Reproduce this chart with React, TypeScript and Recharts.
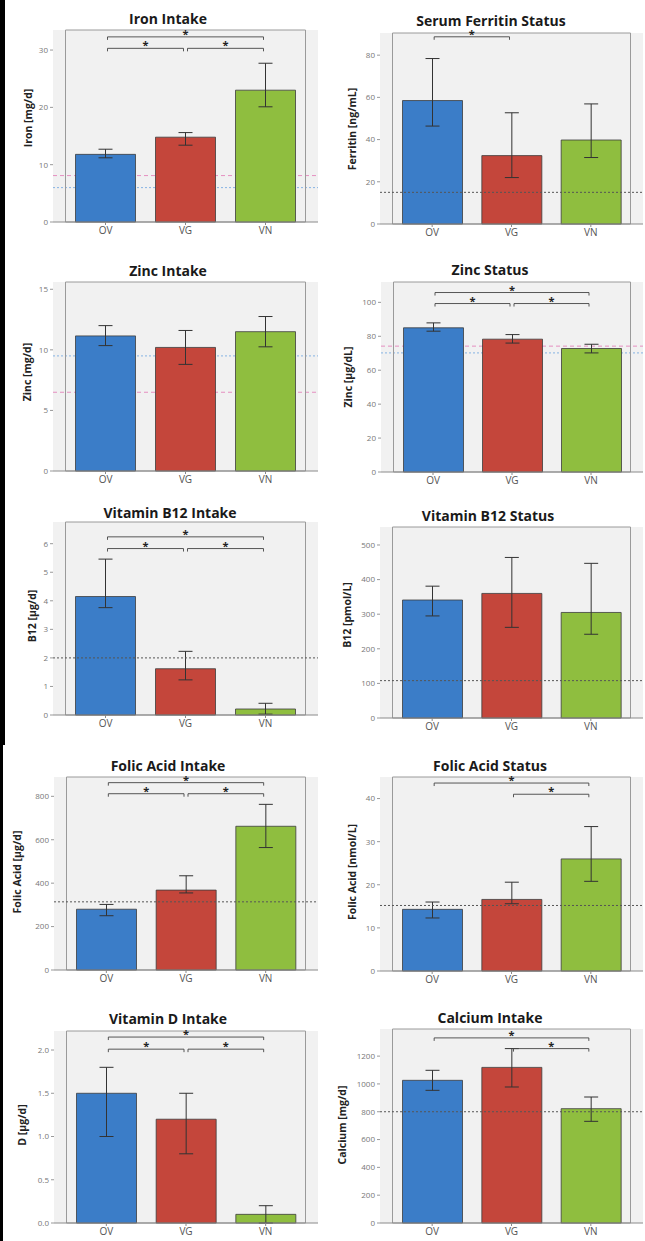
import {
  BarChart,
  Bar,
  XAxis,
  YAxis,
  ErrorBar,
  ReferenceLine,
  ReferenceArea,
  CartesianGrid,
  Cell
} from "recharts"

const groups = ["OV", "VG", "VN"]
const barColors = ["#3b7dc8", "#c4463b", "#8fbe3f"]

// Iron intake [mg/d]
const ironMean = [11.8, 14.8, 23.0]
const ironLow = [11.2, 13.4, 20.1]
const ironHigh = [12.7, 15.6, 27.7]
const ironTicks = [0, 10, 20, 30]
const ironRefs = [{ y: 8.1, kind: "pink" }, { y: 6.0, kind: "blue" }]
const ironBrackets = [["OV", "VN", 32.3], ["OV", "VG", 30.3], ["VG", "VN", 30.3]]

// Serum ferritin [ng/mL]
const ferritinMean = [58.5, 32.4, 39.8]
const ferritinLow = [46.4, 22.0, 31.5]
const ferritinHigh = [78.4, 52.7, 56.9]
const ferritinTicks = [0, 20, 40, 60, 80]
const ferritinRefs = [{ y: 15, kind: "dark" }]
const ferritinBrackets = [["OV", "VG", 88.7]]

// Zinc intake [mg/d]
const zincMean = [11.15, 10.2, 11.5]
const zincLow = [10.35, 8.8, 10.25]
const zincHigh = [12.0, 11.6, 12.75]
const zincTicks = [0, 5, 10, 15]
const zincRefs = [{ y: 9.5, kind: "blue" }, { y: 6.5, kind: "pink" }]
const zincBrackets: any[] = []

// Zinc status [µg/dL]
const zincStatusMean = [85, 78.3, 72.8]
const zincStatusLow = [83, 76, 70.2]
const zincStatusHigh = [87.9, 81, 75.3]
const zincStatusTicks = [0, 20, 40, 60, 80, 100]
const zincStatusRefs = [{ y: 74.2, kind: "pink" }, { y: 70.2, kind: "blue" }]
const zincStatusBrackets = [["OV", "VN", 105.8], ["OV", "VG", 99.3], ["VG", "VN", 99.3]]

// Vitamin B12 intake [µg/d]
const b12Mean = [4.15, 1.62, 0.21]
const b12Low = [3.76, 1.23, 0.03]
const b12High = [5.46, 2.23, 0.41]
const b12Ticks = [0, 1, 2, 3, 4, 5, 6]
const b12Refs = [{ y: 2.0, kind: "dark" }]
const b12Brackets = [["OV", "VN", 6.24], ["OV", "VG", 5.83], ["VG", "VN", 5.83]]

// Vitamin B12 status [pmol/L]
const b12StatusMean = [341, 360, 305]
const b12StatusLow = [295, 262, 242]
const b12StatusHigh = [381, 464, 447]
const b12StatusTicks = [0, 100, 200, 300, 400, 500]
const b12StatusRefs = [{ y: 108, kind: "dark" }]
const b12StatusBrackets: any[] = []

// Folic acid intake [µg/d]
const folicMean = [280, 368, 662]
const folicLow = [250, 355, 564]
const folicHigh = [302, 434, 763]
const folicTicks = [0, 200, 400, 600, 800]
const folicRefs = [{ y: 314, kind: "dark" }]
const folicBrackets = [["OV", "VN", 863], ["OV", "VG", 812], ["VG", "VN", 812]]

// Folic acid status [nmol/L]
const folicStatusMean = [14.3, 16.6, 26]
const folicStatusLow = [12.3, 15.6, 20.8]
const folicStatusHigh = [16, 20.6, 33.5]
const folicStatusTicks = [0, 10, 20, 30, 40]
const folicStatusRefs = [{ y: 15.2, kind: "dark" }]
const folicStatusBrackets = [["OV", "VN", 43.6], ["VG", "VN", 41]]

// Vitamin D intake [µg/d]
const vitDMean = [1.5, 1.2, 0.1]
const vitDLow = [1.0, 0.8, 0.0]
const vitDHigh = [1.8, 1.5, 0.2]
const vitDTicks = [0, 0.5, 1, 1.5, 2]
const vitDRefs: any[] = []
const vitDBrackets = [["OV", "VN", 2.15], ["OV", "VG", 2.01], ["VG", "VN", 2.01]]

// Calcium intake [mg/d]
const calciumMean = [1026, 1119, 822]
const calciumLow = [954, 978, 731]
const calciumHigh = [1098, 1254, 906]
const calciumTicks = [0, 200, 400, 600, 800, 1000, 1200]
const calciumRefs = [{ y: 800, kind: "dark" }]
const calciumBrackets = [["OV", "VN", 1331], ["VG", "VN", 1254]]

const refStyles: Record<string, { stroke: string; dash: string }> = {
  pink: { stroke: "#e58fc0", dash: "4 3" },
  blue: { stroke: "#86b3e3", dash: "2 2" },
  dark: { stroke: "#555", dash: "2 2" }
}

// frame = plot box [left, top, right, bottom] in page pixels
const panels = [
  { title: "Iron Intake", unit: "Iron [mg/d]", mean: ironMean, low: ironLow, high: ironHigh, ticks: ironTicks, max: 33.5, refs: ironRefs, brackets: ironBrackets, frame: [53, 30, 318, 222], titleX: 168, titleY: 18, labelX: 28, labelY: 118, digits: 0 },
  { title: "Serum Ferritin Status", unit: "Ferritin [ng/mL]", mean: ferritinMean, low: ferritinLow, high: ferritinHigh, ticks: ferritinTicks, max: 90.5, refs: ferritinRefs, brackets: ferritinBrackets, frame: [380, 33, 643, 224], titleX: 491, titleY: 20, labelX: 352, labelY: 129, digits: 0 },
  { title: "Zinc Intake", unit: "Zinc [mg/d]", mean: zincMean, low: zincLow, high: zincHigh, ticks: zincTicks, max: 15.6, refs: zincRefs, brackets: zincBrackets, frame: [53, 282, 318, 471], titleX: 168, titleY: 270, labelX: 27, labelY: 372, digits: 0 },
  { title: "Zinc Status", unit: "Zinc [µg/dL]", mean: zincStatusMean, low: zincStatusLow, high: zincStatusHigh, ticks: zincStatusTicks, max: 112, refs: zincStatusRefs, brackets: zincStatusBrackets, frame: [381, 282, 643, 472], titleX: 490, titleY: 269, labelX: 348, labelY: 377, digits: 0 },
  { title: "Vitamin B12 Intake", unit: "B12 [µg/d]", mean: b12Mean, low: b12Low, high: b12High, ticks: b12Ticks, max: 6.76, refs: b12Refs, brackets: b12Brackets, frame: [53, 522, 318, 715], titleX: 170, titleY: 512, labelX: 32, labelY: 616, digits: 0 },
  { title: "Vitamin B12 Status", unit: "B12 [pmol/L]", mean: b12StatusMean, low: b12StatusLow, high: b12StatusHigh, ticks: b12StatusTicks, max: 552, refs: b12StatusRefs, brackets: b12StatusBrackets, frame: [380, 527, 643, 718], titleX: 488, titleY: 515, labelX: 347, labelY: 615, digits: 0 },
  { title: "Folic Acid Intake", unit: "Folic Acid [µg/d]", mean: folicMean, low: folicLow, high: folicHigh, ticks: folicTicks, max: 889, refs: folicRefs, brackets: folicBrackets, frame: [54, 777, 318, 970], titleX: 168, titleY: 765, labelX: 17, labelY: 872, digits: 0 },
  { title: "Folic Acid Status", unit: "Folic Acid [nmol/L]", mean: folicStatusMean, low: folicStatusLow, high: folicStatusHigh, ticks: folicStatusTicks, max: 45, refs: folicStatusRefs, brackets: folicStatusBrackets, frame: [380, 777, 643, 971], titleX: 490, titleY: 765, labelX: 352, labelY: 872, digits: 0 },
  { title: "Vitamin D Intake", unit: "D [µg/d]", mean: vitDMean, low: vitDLow, high: vitDHigh, ticks: vitDTicks, max: 2.22, refs: vitDRefs, brackets: vitDBrackets, frame: [54, 1031, 318, 1223], titleX: 168, titleY: 1018, labelX: 22, labelY: 1125, digits: 1 },
  { title: "Calcium Intake", unit: "Calcium [mg/d]", mean: calciumMean, low: calciumLow, high: calciumHigh, ticks: calciumTicks, max: 1395, refs: calciumRefs, brackets: calciumBrackets, frame: [380, 1029, 643, 1223], titleX: 490, titleY: 1017, labelX: 342, labelY: 1125, digits: 0 }
]

const FONT = '"Open Sans", "DejaVu Sans", sans-serif'
const AXIS_W = 45
const TOP_PAD = 14

const bracketShape = (props: any) => {
  const { x1, y1, x2 } = props
  const a = x1 + 2
  const z = x2 - 2
  return (
    <g>
      <path d={`M${a},${y1 + 3}V${y1}H${z}V${y1 + 3}`} fill="none" stroke="#444" strokeWidth={0.9} />
      <text x={(a + z) / 2} y={y1 + 1} textAnchor="middle" fontSize={11} fontWeight="bold" fill="#222" fontFamily={FONT}>
        *
      </text>
    </g>
  )
}

const Panel = ({ p }: { p: any }) => {
  const [l, t, r, b] = p.frame
  const rows = groups.map((g, i) => ({
    group: g,
    mean: p.mean[i],
    err: [p.mean[i] - p.low[i], p.high[i] - p.mean[i]]
  }))
  const width = r - l + AXIS_W + 2
  const height = b - t + TOP_PAD + 22
  const behind = p.refs.filter((f: any) => f.kind !== "dark")
  const front = p.refs.filter((f: any) => f.kind === "dark")

  return (
    <>
      <div
        style={{
          position: "absolute",
          left: p.titleX,
          top: p.titleY,
          transform: "translate(-50%, -50%)",
          fontFamily: FONT,
          fontWeight: 700,
          fontSize: 14,
          color: "#1a1a1a",
          whiteSpace: "nowrap",
          zIndex: 1
        }}
      >
        {p.title}
      </div>
      <div
        style={{
          position: "absolute",
          left: p.labelX,
          top: p.labelY,
          transform: "translate(-50%, -50%) rotate(-90deg)",
          fontFamily: FONT,
          fontWeight: 700,
          fontSize: 10.5,
          color: "#222",
          whiteSpace: "nowrap"
        }}
      >
        {p.unit}
      </div>
      <div style={{ position: "absolute", left: l - AXIS_W, top: t - TOP_PAD }}>
        <BarChart width={width} height={height} data={rows} margin={{ top: TOP_PAD, right: 2, left: 0, bottom: 0 }}>
          <CartesianGrid horizontal={false} vertical={false} fill="#f1f1f1" fillOpacity={1} />
          {behind.map((f: any, i: number) => (
            <CartesianGrid
              key={"b" + i}
              vertical={false}
              horizontalValues={[f.y]}
              stroke={refStyles[f.kind].stroke}
              strokeDasharray={refStyles[f.kind].dash}
            />
          ))}
          <XAxis
            dataKey="group"
            height={22}
            padding={{ left: 12.5, right: 12.5 }}
            tickSize={3}
            axisLine={{ stroke: "#8a8a8a" }}
            tickLine={{ stroke: "#8a8a8a" }}
            tick={{ fontSize: 10, fill: "#555", fontFamily: FONT }}
          />
          <YAxis
            width={AXIS_W}
            type="number"
            domain={[0, p.max]}
            ticks={p.ticks}
            interval={0}
            tickSize={3}
            axisLine={false}
            tickLine={{ stroke: "#999" }}
            tick={{ fontSize: 8, fill: "#777", fontFamily: FONT }}
            tickFormatter={(v: number) => v.toFixed(p.digits)}
          />
          <ReferenceArea y1={0} y2={p.max} fill="none" stroke="#9a9a9a" strokeWidth={1} />
          <Bar dataKey="mean" barSize={60} stroke="#3c3c3c" strokeWidth={0.8} isAnimationActive={false}>
            {rows.map((_, i) => (
              <Cell key={i} fill={barColors[i]} />
            ))}
            <ErrorBar dataKey="err" width={7} stroke="#333" strokeWidth={1} isAnimationActive={false} />
          </Bar>
          {front.map((f: any, i: number) => (
            <ReferenceLine key={"f" + i} y={f.y} stroke={refStyles[f.kind].stroke} strokeDasharray={refStyles[f.kind].dash} strokeWidth={1} />
          ))}
          {p.brackets.map((br: any, i: number) => (
            <ReferenceLine
              key={"s" + i}
              segment={[{ x: br[0], y: br[2] }, { x: br[1], y: br[2] }]}
              stroke="#444"
              shape={bracketShape}
            />
          ))}
        </BarChart>
      </div>
    </>
  )
}

const App = () => {
  return (
    <div style={{ position: "absolute", left: 0, top: 0, width: 645, height: 1241, background: "#fff", overflow: "hidden" }}>
      <div style={{ position: "absolute", left: 0, top: 0, width: 5, height: 745, background: "#000" }} />
      <div style={{ position: "absolute", left: 0, top: 745, width: 3, height: 496, background: "#000" }} />
      {panels.map((p, i) => (
        <Panel key={i} p={p} />
      ))}
    </div>
  )
}

export default App
